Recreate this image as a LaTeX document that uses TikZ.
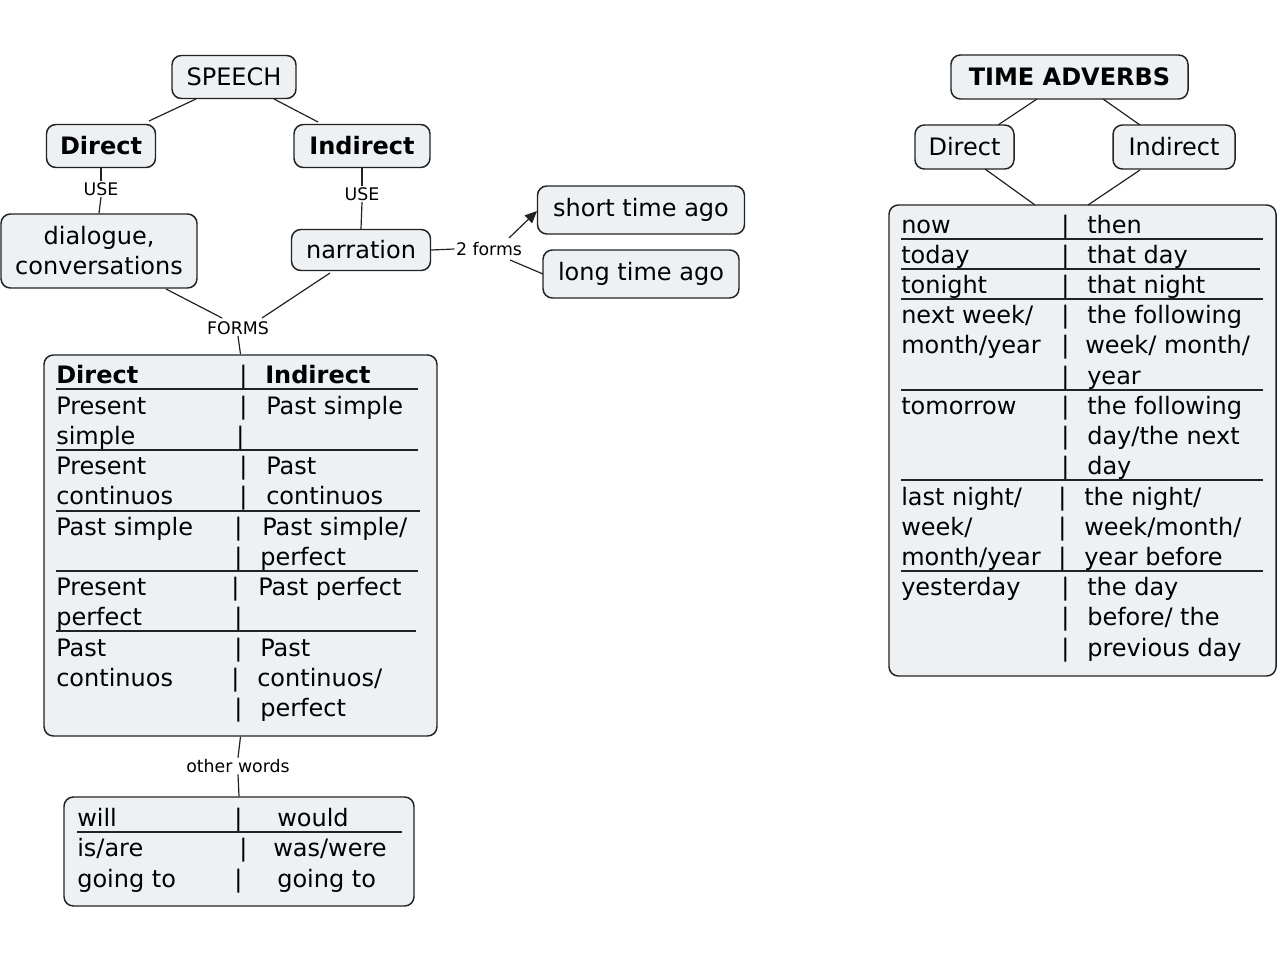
\documentclass[tikz,border=0pt]{standalone}
\usepackage{fontspec}
\setmainfont{DejaVu Sans}
\usetikzlibrary{arrows.meta}
\definecolor{bx}{HTML}{EDF1F4}
\definecolor{ln}{HTML}{222222}
\newcommand{\trow}[6]{%
 \node[txt] at (#2,#1+6) {#3};
 \node[txt] at (#4,#1+6) {|};
 \node[txt] at (#5,#1+6) {#6};}
\newcommand{\uline}[3]{\draw[ul] (#2,#1) -- (#3,#1);}
\begin{document}
\begin{tikzpicture}[x=0.75pt,y=-0.75pt,
 box/.style={draw=ln,line width=1.1pt,fill=bx,rounded corners=7pt,inner sep=0pt,font=\fontsize{18}{22.5}\selectfont,align=center},
 txt/.style={anchor=base west,inner sep=0pt,font=\fontsize{18}{22.5}\selectfont},
 lab/.style={inner sep=1pt,font=\fontsize{13}{15}\selectfont},
 con/.style={draw=ln,line width=0.9pt},
 ul/.style={draw=ln,line width=0.9pt}]
\useasboundingbox (0,0) rectangle (1280,963);
% boxes
\node[box,minimum width=124*0.75pt,minimum height=43*0.75pt] (speech) at (234,77) {SPEECH};
\node[box,minimum width=109*0.75pt,minimum height=43*0.75pt] (dir) at (101,146) {\textbf{Direct}};
\node[box,minimum width=136*0.75pt,minimum height=43*0.75pt] (ind) at (362,146) {\textbf{Indirect}};
\node[box,minimum width=196*0.75pt,minimum height=74*0.75pt] (dia) at (99,251) {dialogue,\\conversations};
\node[box,minimum width=139*0.75pt,minimum height=41*0.75pt] (nar) at (361,250) {narration};
\node[box,minimum width=207*0.75pt,minimum height=48*0.75pt] (sta) at (641,210) {short time ago};
\node[box,minimum width=196*0.75pt,minimum height=48*0.75pt] (lta) at (641,274) {long time ago};
\node[box,minimum width=393*0.75pt,minimum height=381*0.75pt] (t1) at (240.5,545.5) {};
\node[box,minimum width=350*0.75pt,minimum height=109*0.75pt] (t3) at (239,851.5) {};
\node[box,minimum width=237*0.75pt,minimum height=44*0.75pt] (ta) at (1069.5,77) {\textbf{TIME ADVERBS}};
\node[box,minimum width=99*0.75pt,minimum height=44*0.75pt] (dir2) at (964.5,147) {Direct};
\node[box,minimum width=122*0.75pt,minimum height=44*0.75pt] (ind2) at (1174,147) {Indirect};
\node[box,minimum width=387*0.75pt,minimum height=471*0.75pt] (t2) at (1082.5,440.5) {};
% labels
\node[lab] (use1) at (101,189) {USE};
\node[lab] (use2) at (362,194) {USE};
\node[lab] (forms) at (238,328) {FORMS};
\node[lab] (two) at (489,249) {2 forms};
\node[lab] (ow) at (238,766) {other words};
% connectors
\draw[con] (149,121) -- (196,99);
\draw[con] (274,99) -- (318,122);
\draw[con] (dir.south) -- (use1.north);
\draw[con] (use1.south) -- (dia.north);
\draw[con] (ind.south) -- (use2.north);
\draw[con] (use2.south) -- (nar.north);
\draw[con] (nar.east) -- (two.west);
\draw[con,-{Triangle[length=9pt,width=8pt]}] (509,238) -- (537,211);
\draw[con] (510,260) -- (543,274);
\draw[con] (166,289) -- (222,318);
\draw[con] (330,273) -- (262,318);
\draw[con] (forms.south) -- (t1.north);
\draw[con] (t1.south) -- (ow.north);
\draw[con] (ow.south) -- (t3.north);
\draw[con] (1037,99) -- (998,125);
\draw[con] (1103,99) -- (1140,125);
\draw[con] (985,169) -- (1035,205);
\draw[con] (1140,170) -- (1088,205);
% table 1
\trow{377}{56}{\textbf{Direct}}{239}{265}{\textbf{Indirect}}
\uline{389}{56}{418}
\trow{408}{56}{Present}{239}{266}{Past simple}
\trow{438}{56}{simple}{236}{266}{}
\uline{450}{56}{418}
\trow{468}{56}{Present}{239}{266}{Past}
\trow{498}{56}{continuos}{239}{266}{continuos}
\uline{511}{56}{420}
\trow{529}{56}{Past simple}{234}{262}{Past simple/}
\trow{559}{56}{}{234}{260}{perfect}
\uline{571}{56}{418}
\trow{589}{56}{Present}{231}{258}{Past perfect}
\trow{619}{56}{perfect}{234}{258}{}
\uline{631}{56}{416}
\trow{650}{56}{Past}{234}{260}{Past}
\trow{680}{56}{continuos}{231}{257}{continuos/}
\trow{710}{56}{}{234}{260}{perfect}
% table 3
\trow{820}{77}{will}{234}{277}{would}
\uline{832}{77}{402}
\trow{850}{77}{is/are}{239}{273}{was/were}
\trow{881}{77}{going to}{234}{277}{going to}
% table 2
\trow{227}{901}{now}{1061}{1087}{then}
\uline{239}{901}{1263}
\trow{257}{901}{today}{1061}{1087}{that day}
\uline{269}{901}{1260}
\trow{287}{901}{tonight}{1061}{1087}{that night}
\uline{299}{901}{1263}
\trow{317}{901}{next week/}{1061}{1087}{the following}
\trow{347}{901}{month/year}{1061}{1085}{week/ month/}
\trow{378}{901}{}{1061}{1087}{year}
\uline{390}{901}{1263}
\trow{408}{901}{tomorrow}{1061}{1087}{the following}
\trow{438}{901}{}{1061}{1087}{day/the next}
\trow{468}{901}{}{1061}{1087}{day}
\uline{480}{901}{1263}
\trow{499}{901}{last night/}{1058}{1084}{the night/}
\trow{529}{901}{week/}{1058}{1084}{week/month/}
\trow{559}{901}{month/year}{1058}{1084}{year before}
\uline{571}{901}{1263}
\trow{589}{901}{yesterday}{1061}{1087}{the day}
\trow{619}{901}{}{1061}{1087}{before/ the}
\trow{650}{901}{}{1061}{1087}{previous day}
\end{tikzpicture}
\end{document}
